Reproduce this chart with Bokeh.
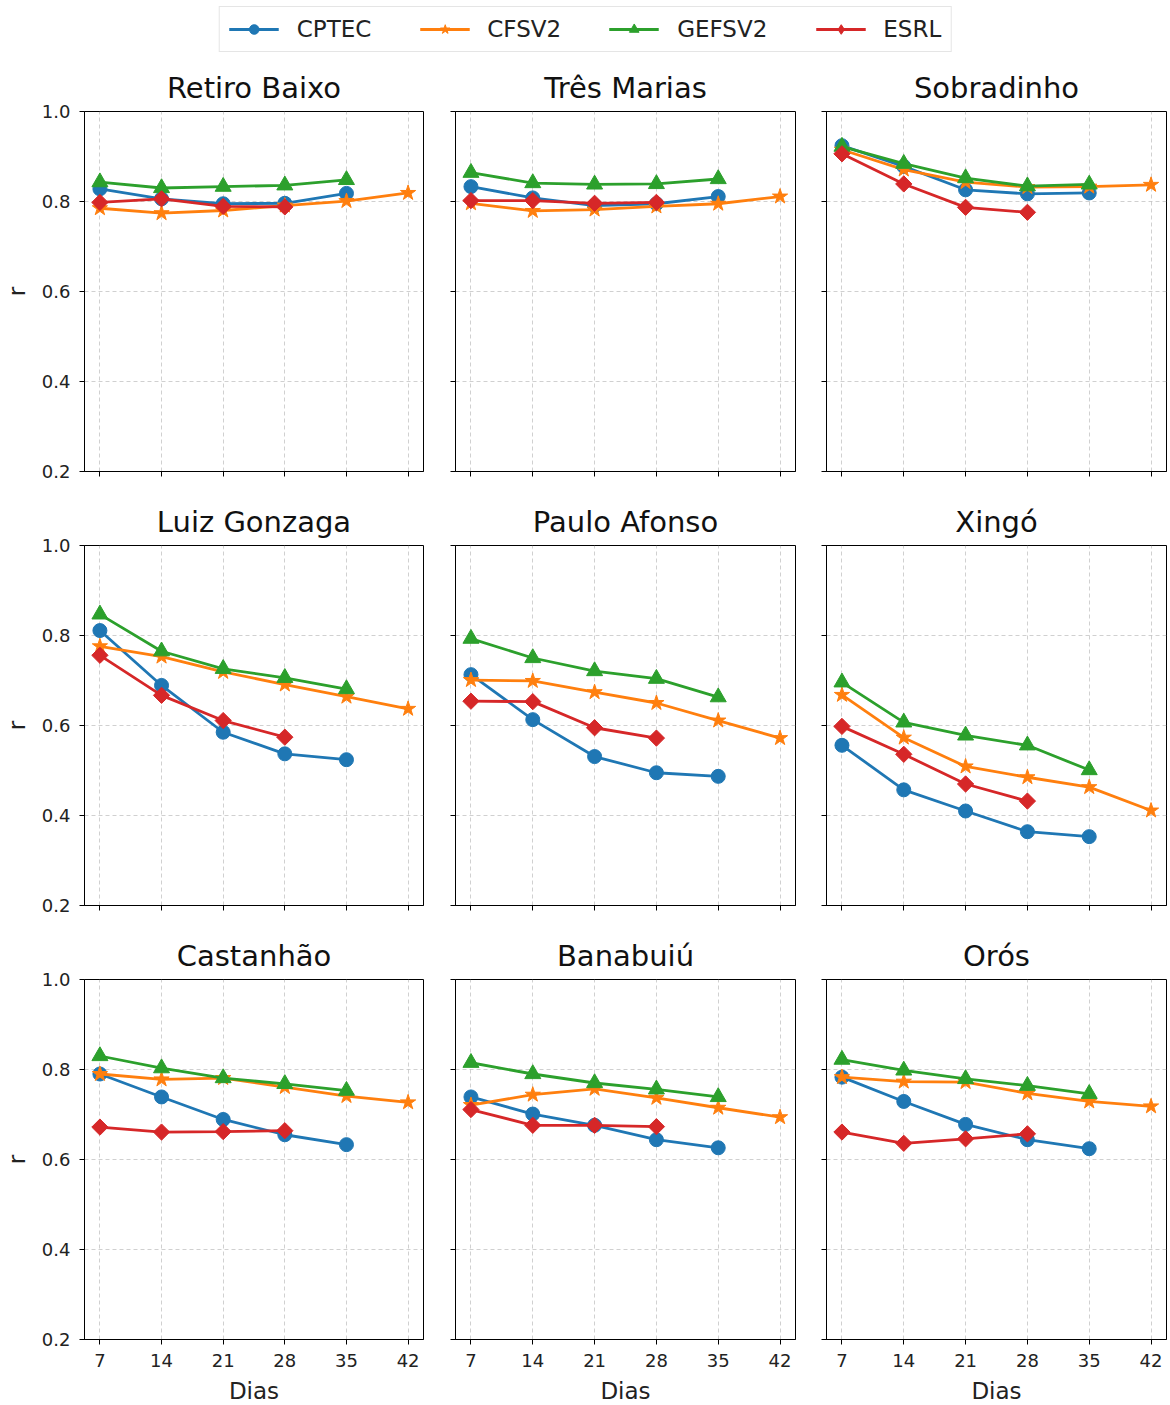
import numpy as np
from bokeh.plotting import figure
from bokeh.models import Range1d, FixedTicker, Legend, LegendItem, PrintfTickFormatter
from bokeh.layouts import column, row
from bokeh.embed import file_html
from bokeh.resources import INLINE

FONT = "DejaVu Sans"

# ---------------- data ----------------
DIAS = [7, 14, 21, 28, 35, 42]
Y_TICKS = [0.2, 0.4, 0.6, 0.8, 1.0]
MODELOS = ["CPTEC", "CFSV2", "GEFSV2", "ESRL"]
CORES = ["#1f77b4", "#ff7f0e", "#2ca02c", "#d62728"]
RESERVATORIOS = ["Retiro Baixo", "Três Marias", "Sobradinho",
                 "Luiz Gonzaga", "Paulo Afonso", "Xingó",
                 "Castanhão", "Banabuiú", "Orós"]

retiro_cptec = [0.828, 0.806, 0.795, 0.796, 0.818]
retiro_cfsv2 = [0.785, 0.774, 0.780, 0.791, 0.801, 0.819]
retiro_gefsv2 = [0.843, 0.830, 0.833, 0.836, 0.848]
retiro_esrl = [0.798, 0.806, 0.789, 0.788]

tres_cptec = [0.833, 0.808, 0.791, 0.795, 0.811]
tres_cfsv2 = [0.796, 0.779, 0.782, 0.789, 0.795, 0.811]
tres_gefsv2 = [0.864, 0.841, 0.838, 0.839, 0.850]
tres_esrl = [0.802, 0.802, 0.796, 0.798]

sobr_cptec = [0.924, 0.878, 0.826, 0.817, 0.819]
sobr_cfsv2 = [0.915, 0.871, 0.843, 0.832, 0.833, 0.837]
sobr_gefsv2 = [0.922, 0.884, 0.852, 0.834, 0.838]
sobr_esrl = [0.906, 0.839, 0.787, 0.776]

luiz_cptec = [0.811, 0.689, 0.585, 0.537, 0.524]
luiz_cfsv2 = [0.776, 0.753, 0.719, 0.691, 0.664, 0.637]
luiz_gefsv2 = [0.847, 0.765, 0.726, 0.706, 0.681]
luiz_esrl = [0.756, 0.667, 0.611, 0.574]

paulo_cptec = [0.713, 0.613, 0.531, 0.495, 0.487]
paulo_cfsv2 = [0.701, 0.699, 0.674, 0.650, 0.611, 0.572]
paulo_gefsv2 = [0.793, 0.750, 0.721, 0.704, 0.663]
paulo_esrl = [0.654, 0.653, 0.595, 0.572]

xingo_cptec = [0.556, 0.457, 0.410, 0.364, 0.353]
xingo_cfsv2 = [0.668, 0.573, 0.509, 0.485, 0.463, 0.411]
xingo_gefsv2 = [0.696, 0.607, 0.578, 0.556, 0.501]
xingo_esrl = [0.598, 0.536, 0.470, 0.432]

cast_cptec = [0.790, 0.739, 0.689, 0.655, 0.633]
cast_cfsv2 = [0.790, 0.778, 0.781, 0.761, 0.741, 0.727]
cast_gefsv2 = [0.830, 0.803, 0.781, 0.768, 0.753]
cast_esrl = [0.672, 0.661, 0.662, 0.664]

bana_cptec = [0.739, 0.701, 0.676, 0.644, 0.626]
bana_cfsv2 = [0.721, 0.744, 0.757, 0.737, 0.715, 0.694]
bana_gefsv2 = [0.815, 0.790, 0.770, 0.756, 0.739]
bana_esrl = [0.711, 0.676, 0.676, 0.673]

oros_cptec = [0.783, 0.729, 0.678, 0.644, 0.624]
oros_cfsv2 = [0.783, 0.773, 0.772, 0.747, 0.729, 0.718]
oros_gefsv2 = [0.822, 0.798, 0.779, 0.764, 0.746]
oros_esrl = [0.661, 0.636, 0.646, 0.657]

SERIES = [
    [retiro_cptec, retiro_cfsv2, retiro_gefsv2, retiro_esrl],
    [tres_cptec, tres_cfsv2, tres_gefsv2, tres_esrl],
    [sobr_cptec, sobr_cfsv2, sobr_gefsv2, sobr_esrl],
    [luiz_cptec, luiz_cfsv2, luiz_gefsv2, luiz_esrl],
    [paulo_cptec, paulo_cfsv2, paulo_gefsv2, paulo_esrl],
    [xingo_cptec, xingo_cfsv2, xingo_gefsv2, xingo_esrl],
    [cast_cptec, cast_cfsv2, cast_gefsv2, cast_esrl],
    [bana_cptec, bana_cfsv2, bana_gefsv2, bana_esrl],
    [oros_cptec, oros_cfsv2, oros_gefsv2, oros_esrl],
]

MARKERS = [
    dict(marker="circle", size=14),
    dict(marker="star", size=16),
    dict(marker="triangle", size=16),
    dict(marker="square", size=11.5, angle=np.pi / 4),
]
LEGEND_MARKERS = [
    dict(marker="circle", size=14),
    dict(marker="star", size=16),
    dict(marker="triangle", size=16),
    dict(marker="diamond", size=20),
]


def draw_series(p, xs, ys, k, markers=MARKERS):
    col = CORES[k]
    l = p.line(xs, ys, line_color=col, line_width=2.8)
    s = p.scatter(xs, ys, fill_color=col, line_color=col, line_width=1, **markers[k])
    return l, s


def make_panel(idx):
    r, c = divmod(idx, 3)
    left = [82, 16, 16][c]
    right = [16, 15, 6][c]
    fw = [339, 340, 340][c]
    top = 53 if r == 0 else 54
    bottom = 66 if r == 2 else 20
    p = figure(frame_width=fw, frame_height=360,
               min_border_left=left, min_border_right=right,
               min_border_top=top, min_border_bottom=bottom,
               x_range=Range1d(5.25, 43.75), y_range=Range1d(0.2, 1.0),
               output_backend="svg", toolbar_location=None,
               title=RESERVATORIOS[idx])
    p.title.align = "center"
    p.title.text_font = FONT
    p.title.text_font_size = "29px"
    p.title.text_font_style = "normal"
    p.title.text_color = "#111111"
    p.title.standoff = 13

    p.outline_line_color = "black"
    p.outline_line_width = 1
    p.outline_line_alpha = 1
    p.background_fill_color = "white"
    p.border_fill_color = "white"

    p.xaxis.ticker = FixedTicker(ticks=DIAS)
    p.yaxis.ticker = FixedTicker(ticks=Y_TICKS)
    p.yaxis.formatter = PrintfTickFormatter(format="%.1f")
    for ax in (p.xaxis, p.yaxis):
        ax.axis_line_color = "black"
        ax.axis_line_width = 1
        ax.major_tick_line_color = "black"
        ax.major_tick_line_width = 1
        ax.major_tick_in = 0
        ax.major_tick_out = 5
        ax.minor_tick_line_color = None
        ax.major_label_text_font = FONT
        ax.major_label_text_font_size = "18px"
        ax.major_label_text_color = "#222222"
        ax.axis_label_text_font = FONT
        ax.axis_label_text_font_size = "23px"
        ax.axis_label_text_font_style = "normal"
        ax.axis_label_text_color = "#222222"
    p.xaxis.major_label_standoff = 9
    p.yaxis.major_label_standoff = 9

    if r < 2:
        p.xaxis.major_label_overrides = {t: "" for t in DIAS}
        p.xaxis.major_label_text_font_size = "0px"
    else:
        p.xaxis.axis_label = "Dias"
        p.xaxis.axis_label_standoff = 8
    if c > 0:
        p.yaxis.major_label_overrides = {t: "" for t in Y_TICKS}
        p.yaxis.major_label_text_font_size = "0px"
    else:
        p.yaxis.axis_label = "r"
        p.yaxis.axis_label_standoff = 9

    for g in (p.xgrid, p.ygrid):
        g.grid_line_color = "#b0b0b0"
        g.grid_line_alpha = 0.6
        g.grid_line_dash = "4 3"
        g.grid_line_width = 1

    for k, ys in enumerate(SERIES[idx]):
        draw_series(p, DIAS[:len(ys)], ys, k)
    return p


panels = [make_panel(i) for i in range(9)]

# legend strip (proxy renderers sit outside the visible range)
lg = figure(width=1170, height=58, min_border=0, x_range=Range1d(0, 1), y_range=Range1d(0, 1),
            output_backend="svg", toolbar_location=None,
            x_axis_location=None, y_axis_location=None)
lg.grid.visible = False
lg.outline_line_color = None
items = []
for k, m in enumerate(MODELOS):
    l, s = draw_series(lg, [-5, -4], [-5, -4], k, LEGEND_MARKERS)
    items.append(LegendItem(label=m, renderers=[l, s]))
legend = Legend(items=items, orientation="horizontal", location="center",
                label_text_font=FONT, label_text_font_size="23px", label_text_color="#222222",
                glyph_width=50, glyph_height=24, label_standoff=18, spacing=48,
                padding=9, margin=0, border_line_color="#cccccc", border_line_width=1.5,
                background_fill_alpha=1)
lg.add_layout(legend)

layout = column(lg,
                row(panels[0], panels[1], panels[2]),
                row(panels[3], panels[4], panels[5]),
                row(panels[6], panels[7], panels[8]))

open("out.html", "w").write(file_html(layout, INLINE))
